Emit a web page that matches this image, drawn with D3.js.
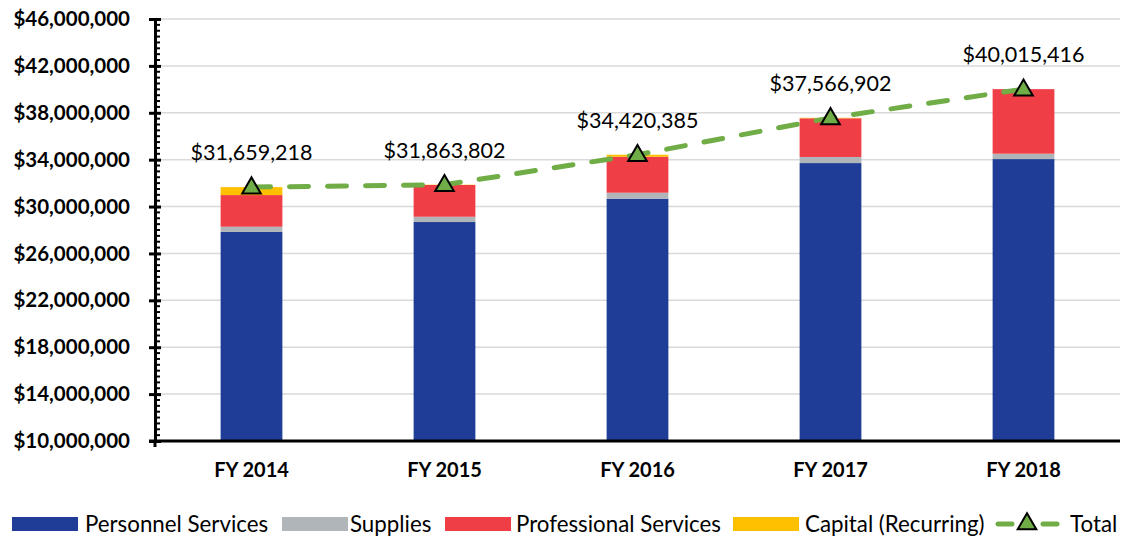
<!DOCTYPE html>
<html>
<head>
<meta charset="utf-8">
<script src="https://cdn.jsdelivr.net/npm/d3@7"></script>
<style>
  body { margin: 0; background: #fff; }
  svg { display: block; font-family: Lato, "Open Sans", sans-serif; }
</style>
</head>
<body>
<svg id="chart" width="1121" height="537"></svg>
<script>
// data
const years = ['FY 2014', 'FY 2015', 'FY 2016', 'FY 2017', 'FY 2018'];
const personnel = [27830000, 28680000, 30670000, 33710000, 34050000];
const supplies = [450000, 450000, 510000, 520000, 460000];
const professional = [2700000, 2710000, 3070000, 3300000, 5505416];
const capital = [679218, 23802, 170385, 36902, 0];
const totals = [31659218, 31863802, 34420385, 37566902, 40015416];
const yTicks = [10e6, 14e6, 18e6, 22e6, 26e6, 30e6, 34e6, 38e6, 42e6, 46e6];

const series = [
  { key: 'personnel', label: 'Personnel Services', values: personnel, color: '#1f3d96' },
  { key: 'supplies', label: 'Supplies', values: supplies, color: '#b0b5ba' },
  { key: 'professional', label: 'Professional Services', values: professional, color: '#ef3e46' },
  { key: 'capital', label: 'Capital (Recurring)', values: capital, color: '#ffc000' }
];

const svg = d3.select('#chart');
const plotL = 155, plotR = 1120, plotT = 19, plotB = 441;

let x = d3.scaleBand().domain(years).range([plotL, plotR])
  .paddingInner(0.68).paddingOuter(0.34);
let y = d3.scaleLinear().domain([10e6, 46e6]).range([plotB, plotT]);

let fmt = d3.format('$,.0f');

// gridlines
svg.append('g')
  .selectAll('line')
  .data(yTicks.slice(1))
  .join('line')
  .attr('x1', plotL).attr('x2', plotR)
  .attr('y1', d => y(d)).attr('y2', d => y(d))
  .attr('stroke', '#d9d9d9').attr('stroke-width', 1.5);

// stacked bars
let rows = years.map((yr, i) => {
  let r = { year: yr };
  series.forEach(s => r[s.key] = s.values[i]);
  return r;
});
let stacked = d3.stack().keys(series.map(s => s.key))(rows);

// baseline is 10M, so the first segment starts at the axis
svg.append('g')
  .selectAll('g')
  .data(stacked)
  .join('g')
  .attr('fill', (d, i) => series[i].color)
  .selectAll('rect')
  .data(d => d)
  .join('rect')
  .attr('x', d => x(d.data.year))
  .attr('width', x.bandwidth())
  .attr('y', d => y(d[1]))
  .attr('height', d => Math.max(0, y(Math.max(d[0], 10e6)) - y(d[1])));

// y axis
let yAxis = d3.axisLeft(y).tickValues(yTicks).tickSize(5).tickPadding(20)
  .tickFormat(d => fmt(d));
let gy = svg.append('g').attr('transform', `translate(${plotL},0)`).call(yAxis);
gy.select('.domain').attr('stroke', '#000').attr('stroke-width', 3);
gy.selectAll('.tick line').attr('x2', -6).attr('x1', 6).attr('stroke', '#000').attr('stroke-width', 3);
gy.selectAll('.tick text')
  .attr('font-size', 20.5).attr('font-weight', 700).attr('fill', '#000')
  .attr('font-family', 'Lato, sans-serif');

// minor ticks every 500k
let minor = d3.range(10.5e6, 46e6, 5e5).filter(v => !yTicks.includes(v));
svg.append('g')
  .selectAll('line')
  .data(minor)
  .join('line')
  .attr('x1', plotL).attr('x2', plotL + 5)
  .attr('y1', d => y(d)).attr('y2', d => y(d))
  .attr('stroke', '#000').attr('stroke-width', 2);

// x axis
let xAxis = d3.axisBottom(x).tickSize(0).tickPadding(22);
let gx = svg.append('g').attr('transform', `translate(0,${plotB})`).call(xAxis);
gx.select('.domain').remove();
svg.append('line')
  .attr('x1', plotL - 6).attr('x2', plotR)
  .attr('y1', plotB).attr('y2', plotB)
  .attr('stroke', '#000').attr('stroke-width', 3);
svg.append('line')
  .attr('x1', plotL).attr('x2', plotL)
  .attr('y1', plotB).attr('y2', plotB + 6)
  .attr('stroke', '#000').attr('stroke-width', 3);
gx.selectAll('.tick text')
  .attr('font-size', 20).attr('font-weight', 700).attr('fill', '#000')
  .attr('font-family', 'Lato, sans-serif');

// total line
let cx = d => x(d) + x.bandwidth() / 2;
let line = d3.line().x((d, i) => cx(years[i])).y(d => y(d));
svg.append('path')
  .datum(totals)
  .attr('d', line)
  .attr('fill', 'none')
  .attr('stroke', '#70ad47')
  .attr('stroke-width', 5)
  .attr('stroke-linecap', 'round')
  .attr('stroke-dasharray', '19,19');

let tri = d3.symbol().type(d3.symbolTriangle).size(150);
svg.append('g')
  .selectAll('path')
  .data(totals)
  .join('path')
  .attr('d', tri)
  .attr('transform', (d, i) => `translate(${cx(years[i])},${y(d) + 1})`)
  .attr('fill', '#70ad47')
  .attr('stroke', '#000')
  .attr('stroke-width', 2);

svg.append('g')
  .selectAll('text')
  .data(totals)
  .join('text')
  .attr('x', (d, i) => cx(years[i]))
  .attr('y', d => y(d) - 27)
  .attr('text-anchor', 'middle')
  .attr('font-size', 21.5)
  .attr('fill', '#000')
  .text(d => fmt(d));

// legend
let legendItems = [
  { label: series[0].label, color: series[0].color, sx: 12, tx: 85 },
  { label: series[1].label, color: series[1].color, sx: 282, tx: 350 },
  { label: series[2].label, color: series[2].color, sx: 445, tx: 516 },
  { label: series[3].label, color: series[3].color, sx: 733, tx: 805 }
];
let legend = svg.append('g');
let ly = 524;
legendItems.forEach(d => {
  legend.append('rect')
    .attr('x', d.sx).attr('y', ly - 7).attr('width', 66).attr('height', 14)
    .attr('fill', d.color);
  legend.append('text')
    .attr('x', d.tx).attr('y', ly).attr('dy', '0.35em')
    .attr('font-size', 22.3).attr('fill', '#000')
    .text(d.label);
});
legend.append('line')
  .attr('x1', 998).attr('x2', 1012).attr('y1', ly).attr('y2', ly)
  .attr('stroke', '#70ad47').attr('stroke-width', 5).attr('stroke-linecap', 'round');
legend.append('line')
  .attr('x1', 1043).attr('x2', 1057).attr('y1', ly).attr('y2', ly)
  .attr('stroke', '#70ad47').attr('stroke-width', 5).attr('stroke-linecap', 'round');
legend.append('path')
  .attr('d', tri)
  .attr('transform', `translate(1027,${ly})`)
  .attr('fill', '#70ad47').attr('stroke', '#000').attr('stroke-width', 2);
legend.append('text')
  .attr('x', 1070).attr('y', ly).attr('dy', '0.35em')
  .attr('font-size', 22.3).attr('fill', '#000')
  .text('Total');
</script>
</body>
</html>
